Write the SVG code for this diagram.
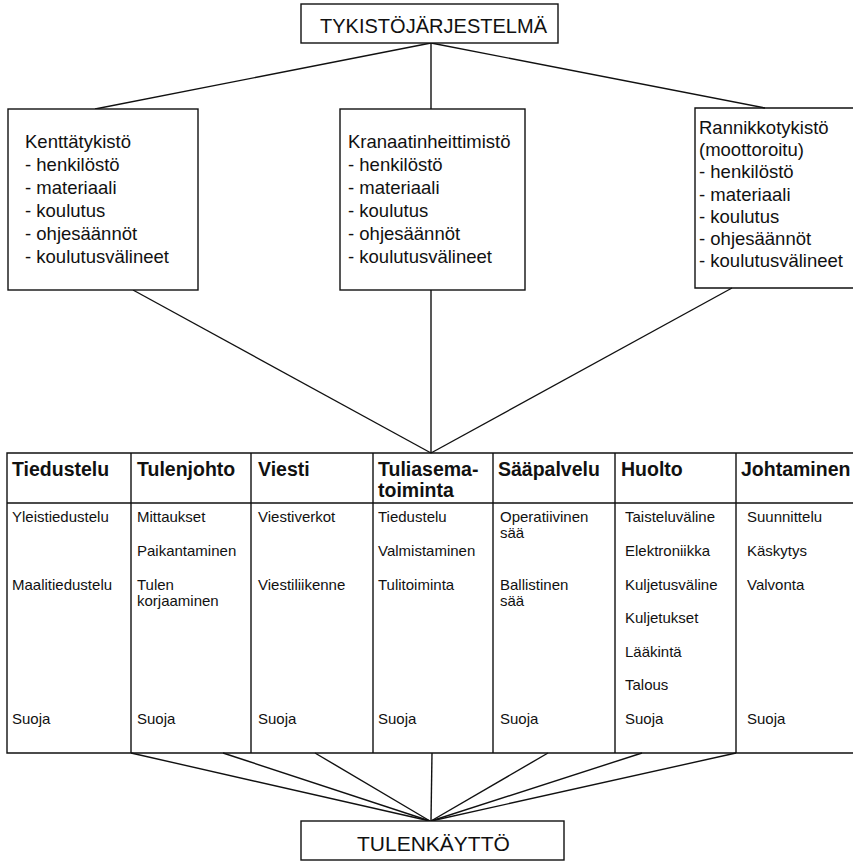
<svg xmlns="http://www.w3.org/2000/svg" width="853" height="862" viewBox="0 0 853 862">
<style>
  .box{fill:#fff;stroke:#111;stroke-width:1.4}
  .ln{stroke:#111;stroke-width:1.4;fill:none}
  .ttl{font-family:"Liberation Sans",Arial,sans-serif;font-size:21px;fill:#111}
  .bt{font-family:"Liberation Sans",Arial,sans-serif;font-size:18.5px;fill:#111}
  .hd{font-family:"Liberation Sans",Arial,sans-serif;font-size:19.5px;font-weight:bold;fill:#111}
  .it{font-family:"Liberation Sans",Arial,sans-serif;font-size:15px;fill:#111}
</style>
<rect width="853" height="862" fill="#fff"/>
<g id="connectors">
  <line class="ln" x1="431" y1="43" x2="95" y2="109"/>
  <line class="ln" x1="431" y1="43" x2="431" y2="109"/>
  <line class="ln" x1="431" y1="43" x2="765" y2="108"/>
  <line class="ln" x1="133" y1="290" x2="431" y2="453"/>
  <line class="ln" x1="431" y1="290" x2="431" y2="453"/>
  <line class="ln" x1="732" y1="288" x2="431" y2="453"/>
  <line class="ln" x1="131" y1="753" x2="430" y2="821"/>
  <line class="ln" x1="223" y1="753" x2="430" y2="821"/>
  <line class="ln" x1="315" y1="753" x2="430" y2="821"/>
  <line class="ln" x1="432" y1="753" x2="431" y2="821"/>
  <line class="ln" x1="548" y1="753" x2="431" y2="821"/>
  <line class="ln" x1="642" y1="753" x2="431" y2="821"/>
  <line class="ln" x1="736" y1="753" x2="431" y2="821"/>
</g>
<g id="n-tykistojarjestelma">
  <rect class="box" x="301" y="4" width="257" height="39"/>
  <text class="ttl" x="320" y="33" textLength="227" lengthAdjust="spacingAndGlyphs">TYKISTÖJÄRJESTELMÄ</text>
</g>
<g id="n-kenttatykisto">
  <rect class="box" x="8" y="109" width="190" height="181"/>
  <text class="bt" x="25" y="148">Kenttätykistö</text>
  <text class="bt" x="25" y="171">- henkilöstö</text>
  <text class="bt" x="25" y="194">- materiaali</text>
  <text class="bt" x="25" y="217">- koulutus</text>
  <text class="bt" x="25" y="240">- ohjesäännöt</text>
  <text class="bt" x="25" y="263">- koulutusvälineet</text>
</g>
<g id="n-kranaatinheittimisto">
  <rect class="box" x="340" y="109" width="185" height="181"/>
  <text class="bt" x="348" y="148">Kranaatinheittimistö</text>
  <text class="bt" x="348" y="171">- henkilöstö</text>
  <text class="bt" x="348" y="194">- materiaali</text>
  <text class="bt" x="348" y="217">- koulutus</text>
  <text class="bt" x="348" y="240">- ohjesäännöt</text>
  <text class="bt" x="348" y="263">- koulutusvälineet</text>
</g>
<g id="n-rannikkotykisto">
  <path class="ln" d="M853,108 H695 V288 H853"/>
  <text class="bt" x="699" y="134">Rannikkotykistö</text>
  <text class="bt" x="699" y="156">(moottoroitu)</text>
  <text class="bt" x="699" y="178">- henkilöstö</text>
  <text class="bt" x="699" y="201">- materiaali</text>
  <text class="bt" x="699" y="223">- koulutus</text>
  <text class="bt" x="699" y="245">- ohjesäännöt</text>
  <text class="bt" x="699" y="267">- koulutusvälineet</text>
</g>
<g id="n-table">
  <path class="ln" d="M853,453 H7 V753 H853 M7,503 H853 M131,453 V753 M251,453 V753 M373,453 V753 M493,453 V753 M615,453 V753 M736,453 V753"/>
</g>
<g id="n-tiedustelu">
  <text class="hd" x="12" y="476">Tiedustelu</text>
  <text class="it" x="12" y="522">Yleistiedustelu</text>
  <text class="it" x="12" y="590">Maalitiedustelu</text>
  <text class="it" x="12" y="724">Suoja</text>
</g>
<g id="n-tulenjohto">
  <text class="hd" x="137" y="476">Tulenjohto</text>
  <text class="it" x="137" y="522">Mittaukset</text>
  <text class="it" x="137" y="556">Paikantaminen</text>
  <text class="it" x="137" y="590">Tulen</text>
  <text class="it" x="137" y="606">korjaaminen</text>
  <text class="it" x="137" y="724">Suoja</text>
</g>
<g id="n-viesti">
  <text class="hd" x="258" y="476">Viesti</text>
  <text class="it" x="258" y="522">Viestiverkot</text>
  <text class="it" x="258" y="590">Viestiliikenne</text>
  <text class="it" x="258" y="724">Suoja</text>
</g>
<g id="n-tuliasematoiminta">
  <text class="hd" x="378" y="476">Tuliasema-</text>
  <text class="hd" x="378" y="497">toiminta</text>
  <text class="it" x="378" y="522">Tiedustelu</text>
  <text class="it" x="378" y="556">Valmistaminen</text>
  <text class="it" x="378" y="590">Tulitoiminta</text>
  <text class="it" x="378" y="724">Suoja</text>
</g>
<g id="n-saapalvelu">
  <text class="hd" x="498" y="476">Sääpalvelu</text>
  <text class="it" x="500" y="522">Operatiivinen</text>
  <text class="it" x="500" y="538">sää</text>
  <text class="it" x="500" y="590">Ballistinen</text>
  <text class="it" x="500" y="606">sää</text>
  <text class="it" x="500" y="724">Suoja</text>
</g>
<g id="n-huolto">
  <text class="hd" x="621" y="476">Huolto</text>
  <text class="it" x="625" y="522">Taisteluväline</text>
  <text class="it" x="625" y="556">Elektroniikka</text>
  <text class="it" x="625" y="590">Kuljetusväline</text>
  <text class="it" x="625" y="623">Kuljetukset</text>
  <text class="it" x="625" y="657">Lääkintä</text>
  <text class="it" x="625" y="690">Talous</text>
  <text class="it" x="625" y="724">Suoja</text>
</g>
<g id="n-johtaminen">
  <text class="hd" x="741" y="476">Johtaminen</text>
  <text class="it" x="747" y="522">Suunnittelu</text>
  <text class="it" x="747" y="556">Käskytys</text>
  <text class="it" x="747" y="590">Valvonta</text>
  <text class="it" x="747" y="724">Suoja</text>
</g>
<g id="n-tulenkaytto">
  <rect class="box" x="301" y="821" width="263" height="39"/>
  <text class="ttl" x="357" y="851">TULENKÄYTTÖ</text>
</g>
</svg>
